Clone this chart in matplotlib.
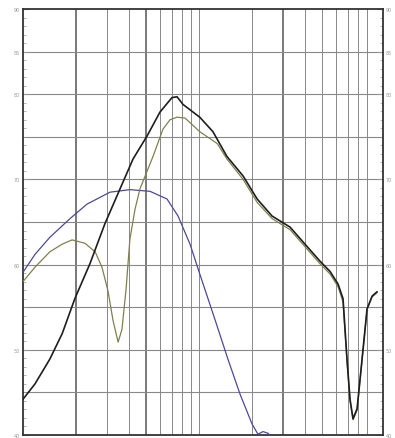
import numpy as np
import matplotlib
matplotlib.use("Agg")
import matplotlib.pyplot as plt

# frequency axis in Hz (log), level axis in dB
black_f = [10, 11.7, 14.2, 16.7, 19.7, 24.0, 29.2, 35.6, 42.2, 50.7, 60.0, 70.2, 75.0,
           81.1, 101, 120, 144, 178, 214, 260, 329, 400, 487, 555, 617, 658, 693,
           721, 750, 791, 844, 901, 962, 1026]
black_db = [44.2, 46.0, 48.9, 51.9, 56.0, 60.1, 64.8, 68.9, 72.4, 75.1, 77.9, 79.6, 79.7,
            78.8, 77.3, 75.6, 72.7, 70.4, 67.7, 65.7, 64.4, 62.4, 60.4, 59.2, 57.7, 56.0, 48.9,
            44.2, 41.9, 43.1, 48.9, 54.8, 56.3, 56.8]

green_f = [10, 11.7, 14.2, 16.7, 19.0, 22.5, 25.7, 28.1, 30.4, 32.5, 34.7, 36.5, 38.5,
           40.5, 43.3, 46.2, 54.8, 62.4, 68.4, 75.0, 83.3, 101, 127, 144, 178, 214, 260,
           329, 400, 487, 555, 617, 658, 693, 721, 750, 791, 844, 901, 962, 1026]
green_db = [58.0, 59.7, 61.5, 62.4, 62.9, 62.5, 61.5, 59.7, 56.9, 53.4, 50.9, 52.4, 57.1,
            63.0, 66.5, 68.9, 72.7, 75.9, 77.0, 77.3, 77.2, 75.6, 74.2, 72.4, 70.0, 67.3, 65.4,
            64.1, 62.1, 60.1, 58.9, 57.4, 55.6, 48.7, 44.0, 41.8, 42.9, 48.8, 54.7, 56.2, 56.7]

blue_f = [10, 11.7, 14.2, 18.5, 23.1, 31.2, 40.5, 52.7, 65.8, 76.0, 88.9, 101, 123, 146,
          171, 200, 216, 231, 247, 262]
blue_db = [59.1, 61.2, 63.2, 65.4, 67.1, 68.5, 68.8, 68.6, 67.7, 65.7, 62.4, 58.9, 53.6,
           48.9, 44.8, 41.3, 40.1, 40.4, 40.2, 39.5]

left_ticks = [40, 50, 60, 70, 80, 85, 90]
left_labels = ["40", "50", "60", "70", "80", "85", "90"]

fig = plt.figure(figsize=(3.95, 4.39), dpi=100)
ax = fig.add_axes([23 / 395, 3 / 439, 360 / 395, 426 / 439])
ax.set_xscale("log")
ax.set_xlim(10, 1110)
ax.set_ylim(40, 90)

# grid
for dec in [10, 100]:
    for k in range(1, 10):
        f = dec * k
        if f <= 10 or f > 1110:
            continue
        dark = f in (20, 50, 300)
        ax.axvline(f, color="#555" if dark else "#888", lw=1.1 if dark else 0.7, zorder=1)
for y in np.arange(45, 90, 5):
    ax.axhline(y, color="#888", lw=0.8, zorder=1)

ax.plot(blue_f, blue_db, color="#4a4a98", lw=0.9, zorder=3)
ax.plot(green_f, green_db, color="#80804e", lw=0.9, zorder=3)
ax.plot(black_f, black_db, color="#1e1e1e", lw=1.2, zorder=4)

for s in ax.spines.values():
    s.set_color("#333")
    s.set_linewidth(1.3)

ax.set_xticks([])
ax.set_xticks([], minor=True)
ax.set_yticks(left_ticks)
ax.set_yticklabels(left_labels)
ax.set_yticks(np.arange(40, 91, 1), minor=True)
ax.tick_params(axis="y", which="both", direction="in", colors="#999", labelsize=3.5,
               right=True, labelright=True, pad=2)
ax.tick_params(axis="y", which="major", length=4)
ax.tick_params(axis="y", which="minor", length=2, width=0.5)

fig.savefig("out.png", dpi=100)
